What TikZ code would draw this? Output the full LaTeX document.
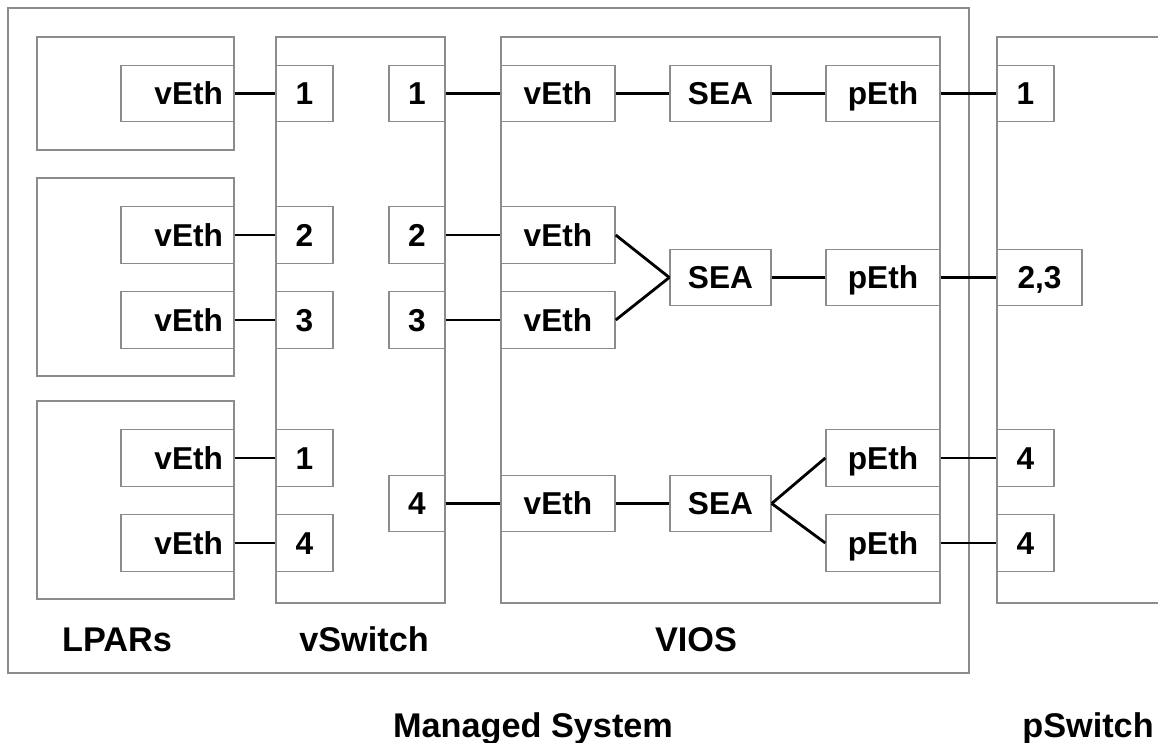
\documentclass[tikz,border=0pt]{standalone}
\usepackage{fontspec}
\setmainfont{Liberation Sans}

\begin{document}
\begin{tikzpicture}[font=\bfseries\fontsize{18}{20}\selectfont,
  box/.style={draw=black!45, line width=0.8pt},
  port/.style={box, fill=white, inner sep=0pt, text height=12.9pt, text depth=0pt, minimum width=1.14cm, minimum height=1.13cm},
  eth/.style={port, minimum width=2.28cm},
  lpareth/.style={box, fill=white, inner xsep=0.22cm, inner ysep=0pt, text height=12.9pt, text depth=0pt, text width=1.82cm, align=right, minimum height=1.13cm},
  wire/.style={line width=1.6pt},
  caption/.style={anchor=base, font=\bfseries\fontsize{19.5}{22}\selectfont}]
  \useasboundingbox (0,0) rectangle (23.16,-14.84);

  % containers
  \draw[box] (0.16,-0.16) rectangle (19.38,-13.46);
  \draw[box] (0.74,-0.74) rectangle (4.68,-3.00);
  \draw[box] (0.74,-3.56) rectangle (4.68,-7.52);
  \draw[box] (0.74,-8.02) rectangle (4.68,-11.98);
  \draw[box] (5.52,-0.74) rectangle (8.90,-12.06);
  \draw[box] (10.02,-0.74) rectangle (18.80,-12.06);
  \draw[box] (23.4,-0.74) -- (19.94,-0.74) -- (19.94,-12.06) -- (23.4,-12.06);

  % LPARs
  \node[lpareth] (lve1) at (3.55,-1.87) {vEth};
  \node[lpareth] (lve2) at (3.55,-4.70) {vEth};
  \node[lpareth] (lve3) at (3.55,-6.40) {vEth};
  \node[lpareth] (lve4) at (3.55,-9.16) {vEth};
  \node[lpareth] (lve5) at (3.55,-10.86) {vEth};

  % vSwitch
  \node[port] (swa1) at (6.09,-1.87) {1};
  \node[port] (swa2) at (6.09,-4.70) {2};
  \node[port] (swa3) at (6.09,-6.40) {3};
  \node[port] (swa4) at (6.09,-9.16) {1};
  \node[port] (swa5) at (6.09,-10.86) {4};
  \node[port, minimum width=1.12cm] (swb1) at (8.34,-1.87) {1};
  \node[port, minimum width=1.12cm] (swb2) at (8.34,-4.70) {2};
  \node[port, minimum width=1.12cm] (swb3) at (8.34,-6.40) {3};
  \node[port, minimum width=1.12cm] (swb4) at (8.34,-10.07) {4};

  % VIOS
  \node[eth] (vve1) at (11.16,-1.87) {vEth};
  \node[eth] (vve2) at (11.16,-4.70) {vEth};
  \node[eth] (vve3) at (11.16,-6.40) {vEth};
  \node[eth] (vve4) at (11.16,-10.07) {vEth};
  \node[port, minimum width=2.02cm] (sea1) at (14.41,-1.87) {SEA};
  \node[port, minimum width=2.02cm] (sea2) at (14.41,-5.55) {SEA};
  \node[port, minimum width=2.02cm] (sea3) at (14.41,-10.07) {SEA};
  \node[eth] (peth1) at (17.66,-1.87) {pEth};
  \node[eth] (peth2) at (17.66,-5.55) {pEth};
  \node[eth] (peth3) at (17.66,-9.16) {pEth};
  \node[eth] (peth4) at (17.66,-10.86) {pEth};

  % pSwitch
  \node[port] (ps1) at (20.51,-1.87) {1};
  \node[port, minimum width=1.70cm] (ps2) at (20.79,-5.55) {2,3};
  \node[port] (ps3) at (20.51,-9.16) {4};
  \node[port] (ps4) at (20.51,-10.86) {4};

  % wires
  \draw[wire] (lve1) -- (swa1);
  \draw[wire] (lve2) -- (swa2);
  \draw[wire] (lve3) -- (swa3);
  \draw[wire] (lve4) -- (swa4);
  \draw[wire] (lve5) -- (swa5);
  \draw[wire] (swb1) -- (vve1);
  \draw[wire] (swb2) -- (vve2);
  \draw[wire] (swb3) -- (vve3);
  \draw[wire] (swb4) -- (vve4);
  \draw[wire] (vve1) -- (sea1);
  \draw[wire] (vve2.east) -- (sea2.west);
  \draw[wire] (vve3.east) -- (sea2.west);
  \draw[wire] (vve4) -- (sea3);
  \draw[wire] (sea1) -- (peth1);
  \draw[wire] (sea2) -- (peth2);
  \draw[wire] (sea3.east) -- (peth3.west);
  \draw[wire] (sea3.east) -- (peth4.west);
  \draw[wire] (peth1) -- (ps1);
  \draw[wire] (peth2) -- (ps2);
  \draw[wire] (peth3) -- (ps3);
  \draw[wire] (peth4) -- (ps4);

  % captions
  \node[caption] (lparlbl) at (2.34,-13.02) {LPARs};
  \node[caption] (swlbl) at (7.28,-13.02) {vSwitch};
  \node[caption] (vioslbl) at (13.92,-13.02) {VIOS};
  \node[caption] (mslbl) at (10.66,-14.74) {Managed System};
  \node[caption] (pslbl) at (21.76,-14.74) {pSwitch};
\end{tikzpicture}
\end{document}
